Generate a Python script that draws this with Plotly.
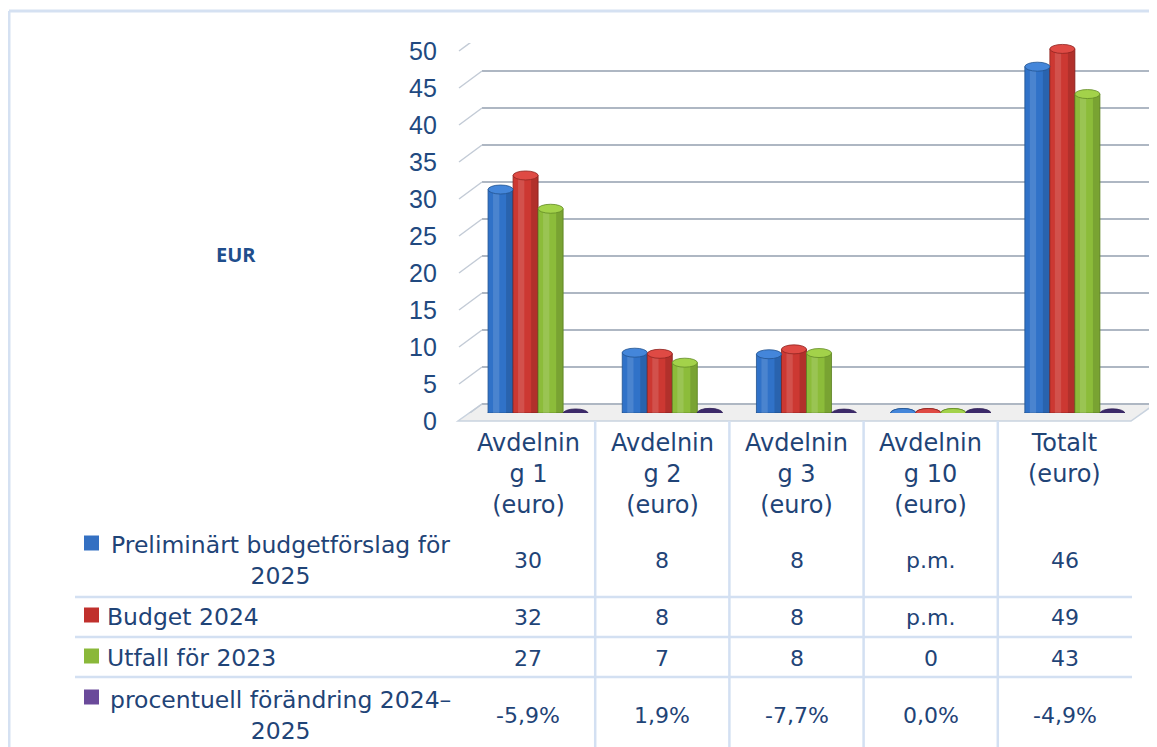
import plotly.graph_objects as go

# page body has an 8px margin, so the figure is placed at (8, 8) in the window
OX, OY = 8, 8
W, H = 1157 - OX, 747 - OY

# ---------------- data ----------------
categories = ["Avdelning 1 (euro)", "Avdelning 2 (euro)", "Avdelning 3 (euro)",
              "Avdelning 10 (euro)", "Totalt (euro)"]
header_labels = ["Avdelnin<br>g 1<br>(euro)", "Avdelnin<br>g 2<br>(euro)",
                 "Avdelnin<br>g 3<br>(euro)", "Avdelnin<br>g 10<br>(euro)",
                 "Totalt<br>(euro)"]
series_names = ["Preliminärt budgetförslag för 2025", "Budget 2024",
                "Utfall för 2023", "procentuell förändring 2024–2025"]
row_labels = ["Preliminärt budgetförslag för<br>2025", "Budget 2024",
              "Utfall för 2023", "procentuell förändring 2024–<br>2025"]

prelim_2025 = [30.2, 8.15, 7.94, 0, 46.8]
budget_2024 = [32.1, 8.0, 8.6, 0, 49.2]
utfall_2023 = [27.6, 6.8, 8.1, 0, 43.1]
pct_change = [-5.9, 1.9, -7.7, 0.0, -4.9]

prelim_text = ["30", "8", "8", "p.m.", "46"]
budget_text = ["32", "8", "8", "p.m.", "49"]
utfall_text = ["27", "7", "8", "0", "43"]
pct_text = ["-5,9%", "1,9%", "-7,7%", "0,0%", "-4,9%"]

y_ticks = [0, 5, 10, 15, 20, 25, 30, 35, 40, 45, 50]

# ---------------- style ----------------
body_colors = ["#3072c8", "#cc3832", "#8cbc3a", "#5a3f8c"]
cap_colors = ["#4486da", "#df4a44", "#a3d24a", "#3c2a6a"]
edge_colors = ["#22538f", "#8e2421", "#628a26", "#2e1f55"]
key_colors = ["#3470c2", "#c0302c", "#8ab83a", "#6a4a9a"]
text_color = "#1f4477"
tick_color = "#21497f"
grid_color = "#aeb7c3"
table_line = "#d3e0f2"
TFONT = "DejaVu Sans"


def px(x):
    return (x - OX) / W


def py(y):
    return 1 - (y - OY) / H


bargap = 0.254
bw = (1 - bargap) / 4

fig = go.Figure()
values = [prelim_2025, budget_2024, utfall_2023, [p / 100 for p in pct_change]]
for k, vals in enumerate(values):
    fig.add_trace(go.Bar(
        x=categories, y=vals, name=series_names[k],
        marker=dict(color=body_colors[k], line=dict(color=edge_colors[k], width=0.8)),
        hoverinfo="skip", showlegend=False,
    ))

shapes = []
# border
shapes.append(dict(type="line", xref="paper", yref="paper", x0=px(9), x1=1, y0=py(11), y1=py(11),
                   line=dict(color="#d5e1f2", width=3)))
shapes.append(dict(type="line", xref="paper", yref="paper", x0=px(9), x1=px(9), y0=py(11), y1=0,
                   line=dict(color="#d5e1f2", width=3)))

# floor
shapes.append(dict(type="path", xref="paper", yref="paper",
                   path=f"M {px(458)} {py(421)} L {px(1131)} {py(421)} L {px(1155)} {py(404)} L {px(482)} {py(404)} Z",
                   fillcolor="#efefef", line=dict(color="#c9d3df", width=1.5), layer="below"))

# back-wall gridlines + slanted side segments
for v in y_ticks:
    shapes.append(dict(type="line", xref="paper", yref="y", ysizemode="pixel", yanchor=v,
                       x0=px(482), x1=px(1155), y0=9, y1=9,
                       line=dict(color=grid_color, width=2.2), layer="below"))
    shapes.append(dict(type="line", xref="paper", yref="y", ysizemode="pixel", yanchor=v,
                       x0=px(459), x1=px(482), y0=-8, y1=9,
                       line=dict(color="#c3cbd6", width=1.5), layer="below"))

# cylinder bottoms, shading and caps
for k, vals in enumerate(values):
    off = (k - 1.5) * bw
    for i, v in enumerate(vals):
        left = i + off - bw / 2
        if k < 3:
            shapes.append(dict(type="circle", xref="x", yref="y", ysizemode="pixel", yanchor=0,
                               x0=left, x1=left + bw, y0=-4.5, y1=4.5,
                               fillcolor=body_colors[k], line=dict(color=edge_colors[k], width=0.8),
                               layer="below"))
            if v > 0:
                shapes.append(dict(type="rect", xref="x", yref="y", x0=left + 0.2 * bw,
                                   x1=left + 0.45 * bw, y0=0, y1=v, line=dict(width=0),
                                   fillcolor="rgba(255,255,255,0.13)", layer="above"))
                shapes.append(dict(type="rect", xref="x", yref="y", x0=left + 0.72 * bw,
                                   x1=left + bw, y0=0, y1=v, line=dict(width=0),
                                   fillcolor="rgba(0,0,0,0.13)", layer="above"))
        shapes.append(dict(type="circle", xref="x", yref="y", ysizemode="pixel", yanchor=v,
                           x0=left, x1=left + bw, y0=-4.5, y1=4.5,
                           fillcolor=cap_colors[k], line=dict(color=edge_colors[k], width=0.8),
                           layer="above"))

# table lines
for i in range(len(categories) - 1):
    shapes.append(dict(type="line", xref="x", yref="paper", xsizemode="pixel", xanchor=i + 0.5,
                       x0=-10, x1=-10, y0=py(421), y1=0, line=dict(color=table_line, width=2.5)))
for yy in [597, 637, 677]:
    shapes.append(dict(type="line", xref="paper", yref="paper", x0=px(75), x1=px(1132),
                       y0=py(yy), y1=py(yy), line=dict(color=table_line, width=2.5)))

# legend keys
for k, yc in enumerate([543, 615, 656, 697]):
    shapes.append(dict(type="rect", xref="paper", yref="paper", x0=px(84), x1=px(99),
                       y0=py(yc + 7.5), y1=py(yc - 7.5), fillcolor=key_colors[k], line=dict(width=0)))

annotations = []
# y tick labels (front edge)
for v in y_ticks:
    annotations.append(dict(text=str(v), xref="paper", yref="y", x=px(439), y=v, yshift=-8,
                            xanchor="right", yanchor="middle", showarrow=False,
                            font=dict(family="Liberation Sans", size=25, color=tick_color)))
# EUR label
annotations.append(dict(text="<b>EUR</b>", xref="paper", yref="paper", x=px(236), y=py(254),
                        xanchor="center", yanchor="middle", showarrow=False,
                        font=dict(family="Open Sans", size=20, color="#1f4e8c")))
# header row
for i, lab in enumerate(header_labels):
    annotations.append(dict(text=lab, xref="x", yref="paper", x=categories[i], xshift=-10,
                            y=py(427), xanchor="center", yanchor="top", showarrow=False,
                            align="center", font=dict(family=TFONT, size=24, color=text_color)))
# table values
row_y = [560, 617, 658, 715]
for r, texts in enumerate([prelim_text, budget_text, utfall_text, pct_text]):
    for i, t in enumerate(texts):
        annotations.append(dict(text=t, xref="x", yref="paper", x=categories[i], xshift=-10,
                                y=py(row_y[r]), xanchor="center", yanchor="middle", showarrow=False,
                                font=dict(family=TFONT, size=22, color=text_color)))
# row labels
for r, lab in enumerate(row_labels):
    if "<br>" in lab:
        annotations.append(dict(text=lab, xref="paper", yref="paper", x=px(280), xanchor="center",
                                y=py(row_y[r]), yanchor="middle", showarrow=False, align="center",
                                font=dict(family=TFONT, size=23.5, color=text_color)))
    else:
        annotations.append(dict(text=lab, xref="paper", yref="paper", x=px(105), xanchor="left",
                                y=py(row_y[r]), yanchor="middle", showarrow=False, align="left",
                                font=dict(family=TFONT, size=23.5, color=text_color)))

fig.update_layout(
    width=W, height=H,
    margin=dict(l=0, r=0, t=0, b=0),
    paper_bgcolor="white", plot_bgcolor="rgba(0,0,0,0)",
    barmode="group", bargap=bargap, bargroupgap=0,
    xaxis=dict(domain=[px(471), px(1142)], showticklabels=False, showgrid=False,
               zeroline=False, showline=False, ticks="", fixedrange=True),
    yaxis=dict(domain=[py(413), py(43)], range=[0, 50], showticklabels=False,
               showgrid=False, zeroline=False, showline=False, ticks="", fixedrange=True),
    shapes=shapes, annotations=annotations, showlegend=False,
)

fig.write_html("out.html")
